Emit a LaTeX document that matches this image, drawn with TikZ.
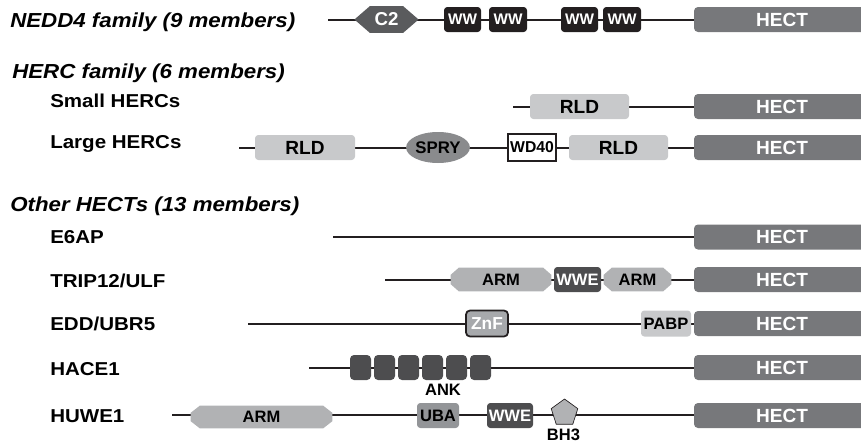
\documentclass[tikz,border=0pt]{standalone}
\usepackage{fontspec}
\setmainfont{Liberation Sans}
\newfontfamily\wfont{Liberation Sans}[FakeStretch=1.1]
\usetikzlibrary{shapes.geometric,calc}
\definecolor{linec}{HTML}{231F20}
\definecolor{hectc}{HTML}{77787B}
\definecolor{rldc}{HTML}{C8C9CB}
\definecolor{armc}{HTML}{B1B2B4}
\definecolor{darkc}{HTML}{4D4D4F}
\definecolor{wwc}{HTML}{231F20}
\definecolor{c2c}{HTML}{5A5B5D}
\definecolor{spryc}{HTML}{8A8B8D}
\definecolor{znfc}{HTML}{A7A9AC}
\definecolor{ubac}{HTML}{939598}
\pgfdeclarelayer{lineslayer}
\pgfdeclarelayer{shapelayer}
\pgfsetlayers{lineslayer,shapelayer,main}
\newcommand\octfill[4]{%
  \begin{pgfonlayer}{shapelayer}
  \fill[#4] ($(#1.north west)+(#2,0)$) -- ($(#1.north east)+(-#2,0)$) -- ($(#1.north east)+(0,#3)$) -- ($(#1.south east)+(0,-#3)$) -- ($(#1.south east)+(-#2,0)$) -- ($(#1.south west)+(#2,0)$) -- ($(#1.south west)+(0,-#3)$) -- ($(#1.north west)+(0,#3)$) -- cycle;
  \end{pgfonlayer}}
\tikzset{
  bb/.style={draw=linec, line width=1.5pt},
  dom/.style={inner sep=0pt, rounded corners=2.5pt, font=\bfseries\fontsize{12.4}{13}\selectfont, minimum height=18.75pt},
  hect/.style={dom, fill=hectc, text=white, minimum height=18.75pt, minimum width=132pt, rounded corners=3pt, font=\bfseries\fontsize{14.3}{15}\selectfont},
  rld/.style={dom, fill=rldc, font=\bfseries\fontsize{14.3}{15}\selectfont},
  ww/.style={dom, fill=wwc, text=white, font=\bfseries\fontsize{11.5}{12}\selectfont},
  wwe/.style={dom, fill=darkc, text=white},
  ank/.style={dom, fill=darkc, minimum width=15.75pt, rounded corners=3pt},
  plain/.style={dom, rounded corners=0pt},
  heading/.style={anchor=base west, inner sep=0pt, font=\wfont\bfseries\itshape\fontsize{15.2}{16}\selectfont},
  rowlabel/.style={anchor=base west, inner sep=0pt, font=\wfont\bfseries\fontsize{14}{15}\selectfont},
  small/.style={inner sep=0pt, font=\bfseries\fontsize{12.4}{13}\selectfont}
}
\begin{document}
\begin{tikzpicture}[x=0.75pt,y=-0.75pt]
\useasboundingbox (0,0) rectangle (861,443);

% headings and labels
\node[heading] (h1) at (10,27) {NEDD4 family (9 members)};
\node[heading] (h2) at (12,78) {HERC family (6 members)};
\node[heading] (h3) at (10,211) {Other HECTs (13 members)};
\node[rowlabel] (l1) at (50,107) {Small HERCs};
\node[rowlabel] (l2) at (50,148) {Large HERCs};
\node[rowlabel] (l3) at (50,243) {E6AP};
\node[rowlabel] (l4) at (50,287) {TRIP12/ULF};
\node[rowlabel] (l5) at (50,330) {EDD/UBR5};
\node[rowlabel] (l6) at (50,375) {HACE1};
\node[rowlabel] (l7) at (50,422) {HUWE1};

% HECT domains
\node[hect] (hect1) at (782,19.5) {HECT};
\node[hect] (hect2) at (782,106.5) {HECT};
\node[hect] (hect3) at (782,147.5) {HECT};
\node[hect] (hect4) at (782,237) {HECT};
\node[hect] (hect5) at (782,279.5) {HECT};
\node[hect] (hect6) at (782,323.5) {HECT};
\node[hect] (hect7) at (782,367.5) {HECT};
\node[hect] (hect8) at (782,415.5) {HECT};

% Row 1: NEDD4
\coordinate (s1) at (328,19.5);
\node[dom, text=white, minimum width=47.25pt, minimum height=19.5pt, font=\bfseries\fontsize{14}{15}\selectfont] (c2) at (386.5,19.5) {C2};
\octfill{c2}{15}{13}{c2c}
\node[ww, minimum width=27.75pt] (ww1) at (462.5,19.5) {WW};
\node[ww, minimum width=28.5pt] (ww2) at (508,19.5) {WW};
\node[ww, minimum width=27.75pt] (ww3) at (579.5,19.5) {WW};
\node[ww, minimum width=28.5pt] (ww4) at (622,19.5) {WW};

% Small HERCs
\coordinate (s2) at (513,106.5);
\node[rld, minimum width=74.25pt] (rld1) at (579.5,106.5) {RLD};

% Large HERCs
\coordinate (s3) at (239,147.5);
\node[rld, minimum width=75pt] (rld2) at (305,147.5) {RLD};
\node[ellipse, fill=spryc, inner sep=0pt, minimum width=37.5pt, minimum height=23.25pt, font=\bfseries\fontsize{12.6}{13}\selectfont] (spry) at (438,147.5) {SPRY};
\node[plain, draw=linec, line width=1.1pt, fill=white, minimum width=36pt, minimum height=20.25pt, font=\bfseries\fontsize{11.8}{12}\selectfont] (wd40) at (532,147.5) {WD40};
\node[rld, minimum width=74.25pt] (rld3) at (618.5,147.5) {RLD};

% E6AP
\coordinate (s4) at (333,237);

% TRIP12/ULF
\coordinate (s5) at (385,279.5);
\node[dom, minimum width=75pt, minimum height=17.25pt] (arm1) at (501,279.5) {ARM};
\octfill{arm1}{8}{7}{armc}
\node[wwe, minimum width=35.25pt] (wwe1) at (577.5,279.5) {WWE};
\node[dom, minimum width=50.25pt, minimum height=17.25pt] (arm2) at (637.5,279.5) {ARM};
\octfill{arm2}{8}{7}{armc}

% EDD/UBR5
\coordinate (s6) at (248,323.5);
\node[dom, draw=linec, line width=1.3pt, fill=znfc, text=white, minimum width=31.5pt, minimum height=19.5pt, rounded corners=3pt, font=\bfseries\fontsize{13}{14}\selectfont] (znf) at (487,323.5) {ZnF};
\node[dom, fill=rldc, minimum width=37.5pt, minimum height=19.5pt] (pabp) at (666,323.5) {PABP};

% HACE1
\coordinate (s7) at (309,367.5);
\node[ank] (a1) at (360.5,367.5) {};
\node[ank] (a2) at (384.5,367.5) {};
\node[ank] (a3) at (408.5,367.5) {};
\node[ank] (a4) at (432.5,367.5) {};
\node[ank] (a5) at (456.5,367.5) {};
\node[ank] (a6) at (480.5,367.5) {};
\node[small] (anklbl) at (443,389.5) {ANK};

% HUWE1
\coordinate (s8) at (172,414.5);
\node[dom, minimum width=105.75pt, minimum height=16.5pt] (arm3) at (261.5,417) {ARM};
\octfill{arm3}{9}{7}{armc}
\node[dom, fill=ubac, minimum width=31.5pt] (uba) at (438,415.5) {UBA};
\node[wwe, minimum width=34.5pt] (wwe2) at (510,415.5) {WWE};
\node[regular polygon, regular polygon sides=5, minimum size=21pt, inner sep=0pt, fill=armc, draw=linec, line width=0.5pt] (bh3) at (564.5,413) {};
\node[small] (bh3lbl) at (563.5,434.5) {BH3};

% backbones
\begin{pgfonlayer}{lineslayer}
\draw[bb] (s1) -- (hect1.west);
\draw[bb] (s2) -- (hect2.west);
\draw[bb] (s3) -- (hect3.west);
\draw[bb] (s4) -- (hect4.west);
\draw[bb] (s5) -- (hect5.west);
\draw[bb] (s6) -- (hect6.west);
\draw[bb] (s7) -- (hect7.west);
\draw[bb] (s8) -- (hect8.west |- s8);
\end{pgfonlayer}
\end{tikzpicture}
\end{document}
